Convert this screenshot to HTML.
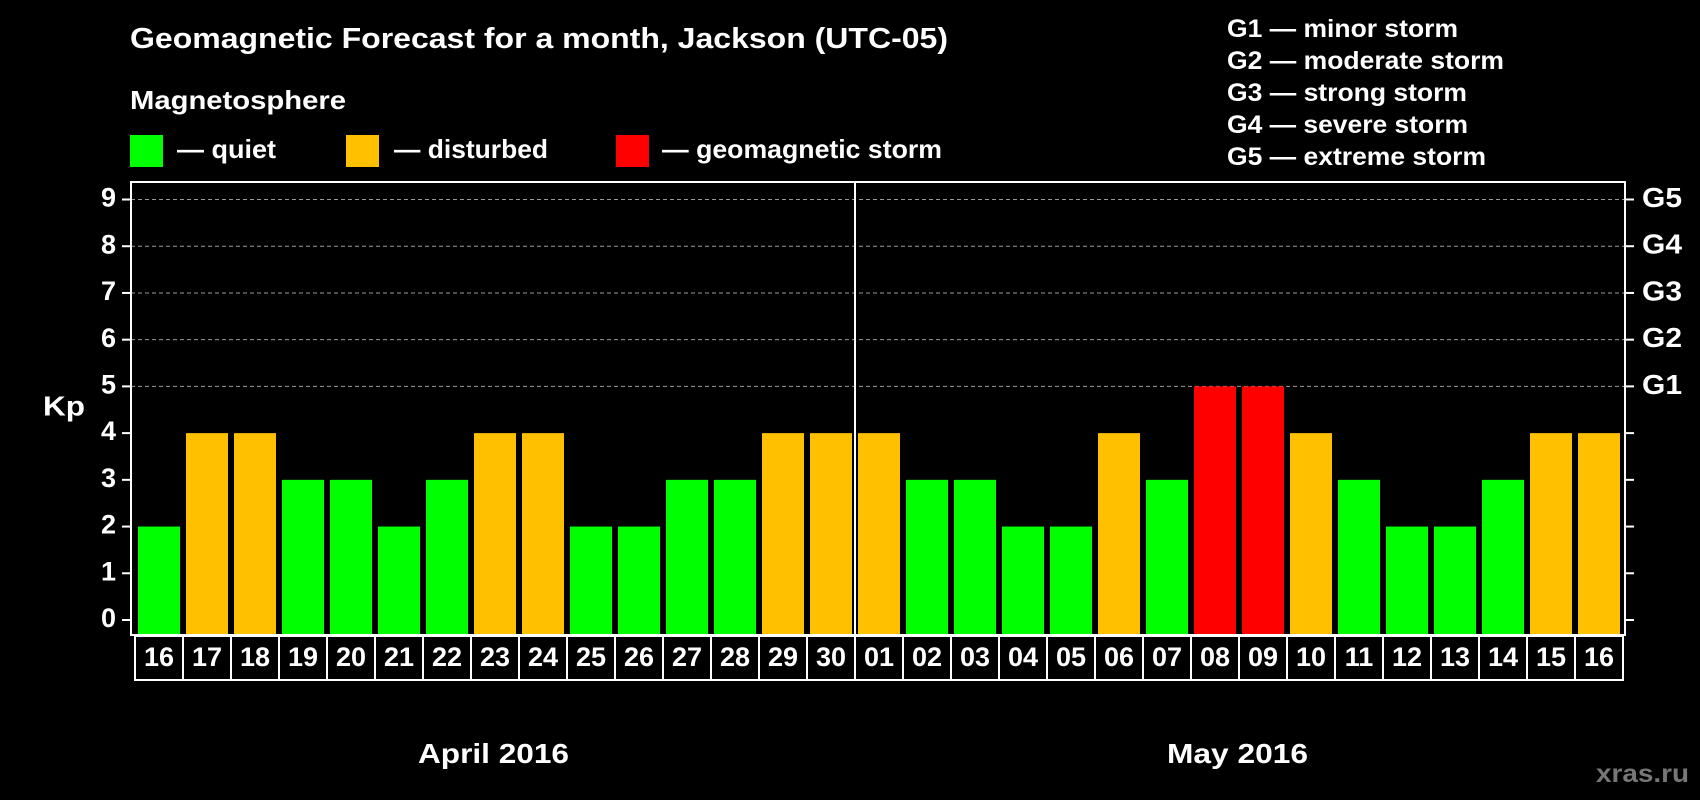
<!DOCTYPE html>
<html><head><meta charset="utf-8"><style>
html,body{margin:0;padding:0;background:#000;}
svg{display:block;font-family:"Liberation Sans",Arial,sans-serif;font-weight:bold;}
</style></head><body>
<svg id="chart" width="1700" height="800" viewBox="0 0 1700 800">
<text x="130" y="48" fill="#fff" font-size="29" textLength="818" lengthAdjust="spacingAndGlyphs">Geomagnetic Forecast for a month, Jackson (UTC-05)</text>
<text x="130" y="109" fill="#fff" font-size="26" textLength="216" lengthAdjust="spacingAndGlyphs">Magnetosphere</text>
<rect x="130" y="135" width="33" height="32" fill="#00ff00"/>
<text x="177" y="158" fill="#fff" font-size="26" textLength="99" lengthAdjust="spacingAndGlyphs">— quiet</text>
<rect x="346" y="135" width="33" height="32" fill="#ffc000"/>
<text x="394" y="158" fill="#fff" font-size="26" textLength="154" lengthAdjust="spacingAndGlyphs">— disturbed</text>
<rect x="616" y="135" width="33" height="32" fill="#ff0000"/>
<text x="662" y="158" fill="#fff" font-size="26" textLength="280" lengthAdjust="spacingAndGlyphs">— geomagnetic storm</text>
<g font-size="25" fill="#fff">
<text x="1227" y="37" textLength="231" lengthAdjust="spacingAndGlyphs">G1 — minor storm</text>
<text x="1227" y="69" textLength="277" lengthAdjust="spacingAndGlyphs">G2 — moderate storm</text>
<text x="1227" y="101" textLength="240" lengthAdjust="spacingAndGlyphs">G3 — strong storm</text>
<text x="1227" y="133" textLength="241" lengthAdjust="spacingAndGlyphs">G4 — severe storm</text>
<text x="1227" y="165" textLength="259" lengthAdjust="spacingAndGlyphs">G5 — extreme storm</text>
</g>
<text x="43" y="408" fill="#fff" font-size="28" textLength="42" lengthAdjust="spacingAndGlyphs" dominant-baseline="middle">Kp</text>
<text x="418" y="763" fill="#fff" font-size="28" textLength="151" lengthAdjust="spacingAndGlyphs">April 2016</text>
<text x="1167" y="763" fill="#fff" font-size="28" textLength="141" lengthAdjust="spacingAndGlyphs">May 2016</text>
<text x="1596" y="782" fill="#777" font-size="25" textLength="93" lengthAdjust="spacingAndGlyphs">xras.ru</text>
<g id="grid"></g><g id="bars"></g><g id="xboxes"></g><g id="axes"></g>
</svg>
<script>
const dates = ["16","17","18","19","20","21","22","23","24","25","26","27","28","29","30","01","02","03","04","05","06","07","08","09","10","11","12","13","14","15","16"];
const kpValues = [2,4,4,3,3,2,3,4,4,2,2,3,3,4,4,4,3,3,2,2,4,3,5,5,4,3,2,2,3,4,4];
const yTicks = [0,1,2,3,4,5,6,7,8,9];
const gLabels = ["","","","","","G1","G2","G3","G4","G5"];
const NS="http://www.w3.org/2000/svg";
const L=131,R=1625,T=182,B=635,X0=135,STEP=48;
function y(v){return 620-v*(620-199.5)/9;}
function x(i){return X0+i*STEP;}
function col(v){return v>=5?"#ff0000":(v>=4?"#ffc000":"#00ff00");}
function mk(tag,attrs,parent){const e=document.createElementNS(NS,tag);for(const k in attrs)e.setAttribute(k,attrs[k]);parent.appendChild(e);return e;}
const grid=document.getElementById('grid'),bars=document.getElementById('bars'),xb=document.getElementById('xboxes'),ax=document.getElementById('axes');
yTicks.forEach((t,i)=>{
  if(t>=5){const g=mk('line',{x1:L,x2:R,y1:y(t),y2:y(t),stroke:'#999','stroke-width':1,'stroke-dasharray':'4,3'},grid);
  
  }
  const tl=mk('line',{x1:L-9,x2:L,y1:y(t),y2:y(t),stroke:'#fff','stroke-width':2},ax);
  
  
  const tr=mk('line',{x1:R,x2:R+9,y1:y(t),y2:y(t),stroke:'#fff','stroke-width':2},ax);
  
  
  const lb=mk('text',{x:116,y:y(t),fill:'#fff','font-size':27,'text-anchor':'end','dominant-baseline':'middle'},ax);
  lb.textContent=t;
  
  
  if(gLabels[i]){const gl=mk('text',{x:1642,y:y(t),fill:'#fff','font-size':28,textLength:40,lengthAdjust:'spacingAndGlyphs','dominant-baseline':'middle'},ax);
  gl.textContent=gLabels[i];
  
  }
});
kpValues.forEach((v,i)=>{
  const b=mk('rect',{x:x(i)+3,y:y(v),width:42,height:B-y(v),fill:col(v)},bars);
  
  
  const bx=mk('rect',{x:x(i),y:636,width:STEP,height:44,fill:'none',stroke:'#fff','stroke-width':2},xb);
  
  
  const t=mk('text',{x:x(i)+STEP/2,y:659,fill:'#fff','font-size':27,'text-anchor':'middle','dominant-baseline':'middle'},xb);
  t.textContent=dates[i];
  
  
});
const fr=mk('rect',{x:L,y:T,width:R-L,height:B-T,fill:'none',stroke:'#fff','stroke-width':2},ax);


const sep=mk('line',{x1:x(15),x2:x(15),y1:T,y2:B,stroke:'#fff','stroke-width':2},ax);


</script>
</body></html>
